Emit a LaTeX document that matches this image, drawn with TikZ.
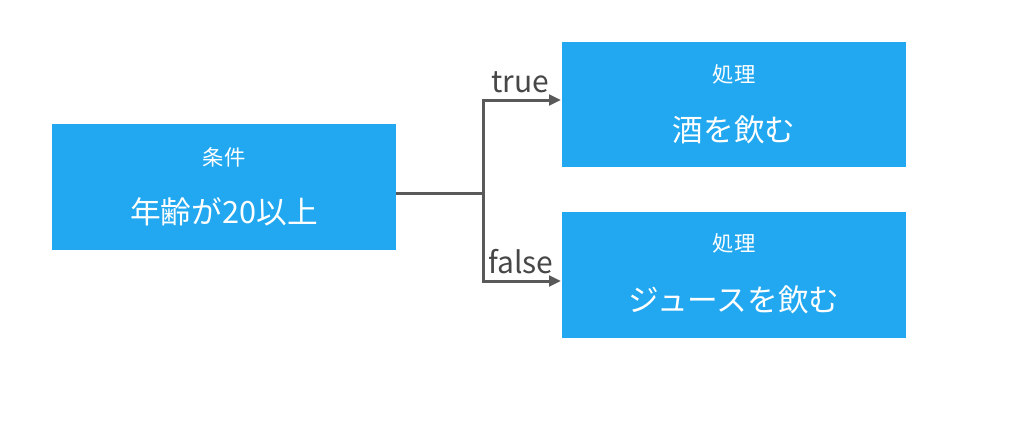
\documentclass[tikz,border=0pt]{standalone}
\usepackage{fontspec}
\setmainfont{Noto Sans CJK JP}
\usetikzlibrary{arrows.meta}
\definecolor{boxblue}{HTML}{22A8F0}
\definecolor{linegray}{HTML}{595959}
\tikzset{
  box/.style={fill=boxblue, draw=none},
  title/.style={text=white, font=\fontsize{16pt}{18pt}\selectfont, inner sep=0pt},
  maintext/.style={text=white, font=\fontsize{23pt}{26pt}\selectfont, inner sep=0pt},
  conn/.style={draw=linegray, line width=2.25pt},
  arr/.style={conn, -{Triangle[length=9pt,width=8pt]}},
  lbl/.style={text=linegray!80!black, font=\fontsize{22.5pt}{24pt}\selectfont, inner sep=0pt}
}
\begin{document}
\begin{tikzpicture}[x=0.75pt,y=-0.75pt]
\useasboundingbox (0,0) rectangle (1024,421);
\fill[white] (0,0) rectangle (1024,421);
% boxes
\path[box] (52,124) rectangle (396,250);
\path[box] (562,42) rectangle (906,167);
\path[box] (562,212) rectangle (906,338);
\node (c) at (224,187) {};
\node (p1) at (734,104) {};
\node (p2) at (734,275) {};
\node[title] (ct) at (224,157) {条件};
\node[maintext] (cm) at (224,212) {年齢が20以上};
\node[title] (pt1) at (734,74) {処理};
\node[maintext] (pm1) at (734,130) {酒を飲む};
\node[title] (pt2) at (734,243) {処理};
\node[maintext] (pm2) at (734,300) {ジュースを飲む};
% connectors
\coordinate (out) at (396,193);
\coordinate (split) at (483,193);
\coordinate (in1) at (561,100);
\coordinate (in2) at (561,281);
\draw[conn] (out) -- (split);
\draw[arr] (split) |- (in1);
\draw[arr] (split) |- (in2);
\node[lbl] (lt) at (520,82) {true};
\node[lbl] (lf) at (521,262) {false};
\end{tikzpicture}
\end{document}
